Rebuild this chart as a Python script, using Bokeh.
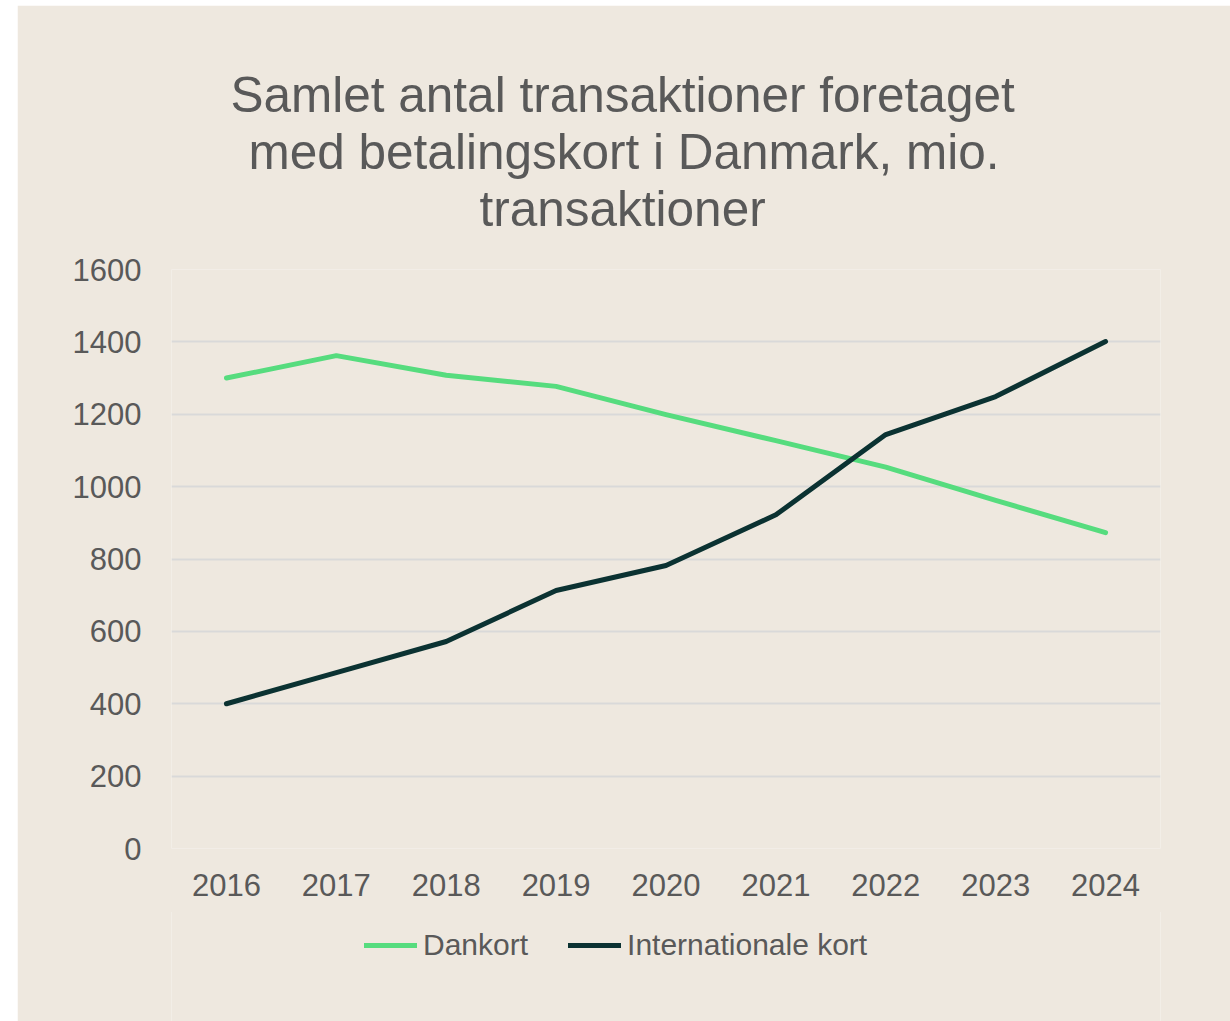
from bokeh.plotting import figure
from bokeh.models import Title, Legend, LegendItem, FactorRange, Range1d, FixedTicker
from bokeh.layouts import column
from bokeh.embed import file_html
from bokeh.resources import INLINE

years = ["2016", "2017", "2018", "2019", "2020", "2021", "2022", "2023", "2024"]
dankort = [1300, 1362, 1308, 1277, 1199, 1127, 1054, 962, 873]
internationale = [400, 486, 572, 713, 782, 922, 1144, 1249, 1401]
y_ticks = [0, 200, 400, 600, 800, 1000, 1200, 1400, 1600]
title_lines = ["Samlet antal transaktioner foretaget",
               "med betalingskort i Danmark, mio.",
               "transaktioner"]
series_names = ["Dankort", "Internationale kort"]

BG = "#EEE8DF"
TXT = "#595959"
FONT = "Liberation Sans"
COLORS = ["#56DC7E", "#0B3232"]
title_offsets = [59, 77, 308]   # left offsets (px) of the title lines from the frame's left edge

p = figure(x_range=FactorRange(*years, range_padding=0), y_range=Range1d(0, 1600),
           frame_width=989, frame_height=579, output_backend="svg", toolbar_location=None,
           background_fill_color=BG, border_fill_color=BG,
           min_border_left=154, min_border_right=70, min_border_top=0, min_border_bottom=64)
p.margin = (5, 0, 0, 17)
p.title = None
p.outline_line_color = None

# spacer nearest the frame, then the three title lines, then a spacer on top
p.add_layout(Title(text=" ", text_font_size="29px", standoff=0), "above")
for t, off in reversed(list(zip(title_lines, title_offsets))):
    p.add_layout(Title(text=t, align="left", offset=off, text_font_size="49.5px",
                       text_font_style="normal", text_color=TXT, text_font=FONT,
                       standoff=0), "above")
p.add_layout(Title(text=" ", text_font_size="50.5px", standoff=0), "above")

p.line(years, dankort, line_color=COLORS[0], line_width=5, line_cap="round", line_join="round")
p.line(years, internationale, line_color=COLORS[1], line_width=5, line_cap="round", line_join="round")

p.yaxis.ticker = FixedTicker(ticks=y_ticks)
for ax in (p.xaxis[0], p.yaxis[0]):
    ax.axis_line_color = None
    ax.major_tick_line_color = None
    ax.minor_tick_line_color = None
    ax.major_label_text_font = FONT
    ax.major_label_text_font_size = "31px"
    ax.major_label_text_color = TXT
p.yaxis.major_label_standoff = 24
p.xaxis.major_label_standoff = 19
p.xgrid.grid_line_color = None
p.ygrid.grid_line_color = "#D9D9D9"
p.ygrid.grid_line_width = 2

# legend strip below the chart (series drawn out of view so the legend shows their glyphs)
pl = figure(width=1213, height=112, x_range=p.x_range, y_range=Range1d(-2000, -1999),
            output_backend="svg", toolbar_location=None, x_axis_type=None, y_axis_type=None,
            background_fill_color=BG, border_fill_color=BG,
            min_border_left=0, min_border_right=0, min_border_top=0, min_border_bottom=0)
pl.margin = (-1, 0, 0, 17)
pl.outline_line_color = None
pl.grid.visible = False
items = []
for name, vals, c in zip(series_names, [dankort, internationale], COLORS):
    r = pl.line(years, vals, line_color=c, line_width=5, line_cap="round")
    items.append(LegendItem(label=name, renderers=[r]))
legend = Legend(items=items, orientation="horizontal", location=(193, 61),
                background_fill_alpha=0, border_line_color=None,
                label_text_font=FONT, label_text_font_size="30px", label_text_color=TXT,
                glyph_width=53, label_standoff=6, spacing=40, padding=0, margin=0)
pl.add_layout(legend, "center")

layout = column(p, pl, spacing=0)
open("out.html", "w").write(file_html(layout, INLINE))
